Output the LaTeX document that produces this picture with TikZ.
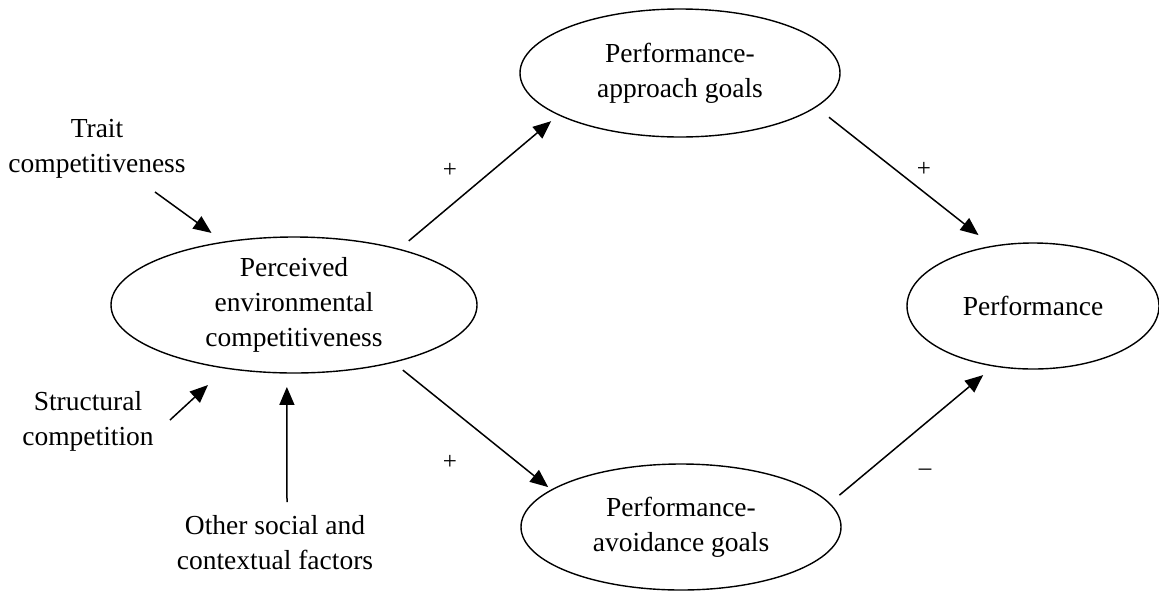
\documentclass[tikz,border=0pt]{standalone}
\usepackage{fontspec}
\setmainfont{Liberation Serif}
\usetikzlibrary{arrows.meta,shapes.geometric}
\begin{document}
\begin{tikzpicture}[x=1pt,y=-1pt,
  ell/.style={draw, ellipse, line width=1.4pt, inner sep=0pt, outer sep=0pt, align=center, font=\fontsize{27.5}{35}\selectfont},
  lbl/.style={align=center, font=\fontsize{27.5}{35}\selectfont, inner sep=0pt},
  sgn/.style={font=\fontsize{25}{28}\selectfont, inner sep=0pt},
  arr/.style={line width=1.5pt, -{Triangle[length=18pt,width=15pt]}}]
\useasboundingbox (0,0) rectangle (1159,590);
% ellipses
\node[ell, minimum width=366pt, minimum height=136pt] (pec) at (294,305) {Perceived\\environmental\\competitiveness};
\node[ell, minimum width=320pt, minimum height=128pt] (app) at (680,73) {Performance-\\approach goals};
\node[ell, minimum width=320pt, minimum height=126pt] (avo) at (681,527) {Performance-\\avoidance goals};
\node[ell, minimum width=252pt, minimum height=126pt] (perf) at (1033,306) {Performance};
% input labels
\node[lbl] (trait) at (97,149) {Trait\\competitiveness};
\node[lbl] (struct) at (88,421) {Structural\\competition};
\node[lbl] (other) at (275,543) {Other social and\\contextual factors};
\coordinate (tt) at (155,192);
\coordinate (st) at (170,420);
\coordinate (ot) at (287,502);
% input arrows
\draw[arr, shorten >=15.7pt] (tt) -- (pec.138.8);
\draw[arr, shorten >=24.9pt] (st) -- (pec.223);
\draw[arr, shorten >=14pt] (ot) -- (pec.264.1);
% path arrows
\draw[arr, shorten <=13pt, shorten >=10pt] (pec.28.2) -- (app.199.7);
\draw[arr, shorten <=12.6pt, shorten >=4.5pt] (pec.330.1) -- (avo.164);
\draw[arr, shorten <=16.8pt, shorten >=18.1pt] (app.346.8) -- (perf.124.5);
\draw[arr, shorten <=13pt, shorten >=14.3pt] (avo.9.6) -- (perf.237);
% signs
\node[sgn] (s1) at (450,170) {+};
\node[sgn] (s2) at (450,462) {+};
\node[sgn] (s3) at (924,169) {+};
\node[sgn] (s4) at (925,472) {–};
\end{tikzpicture}
\end{document}
